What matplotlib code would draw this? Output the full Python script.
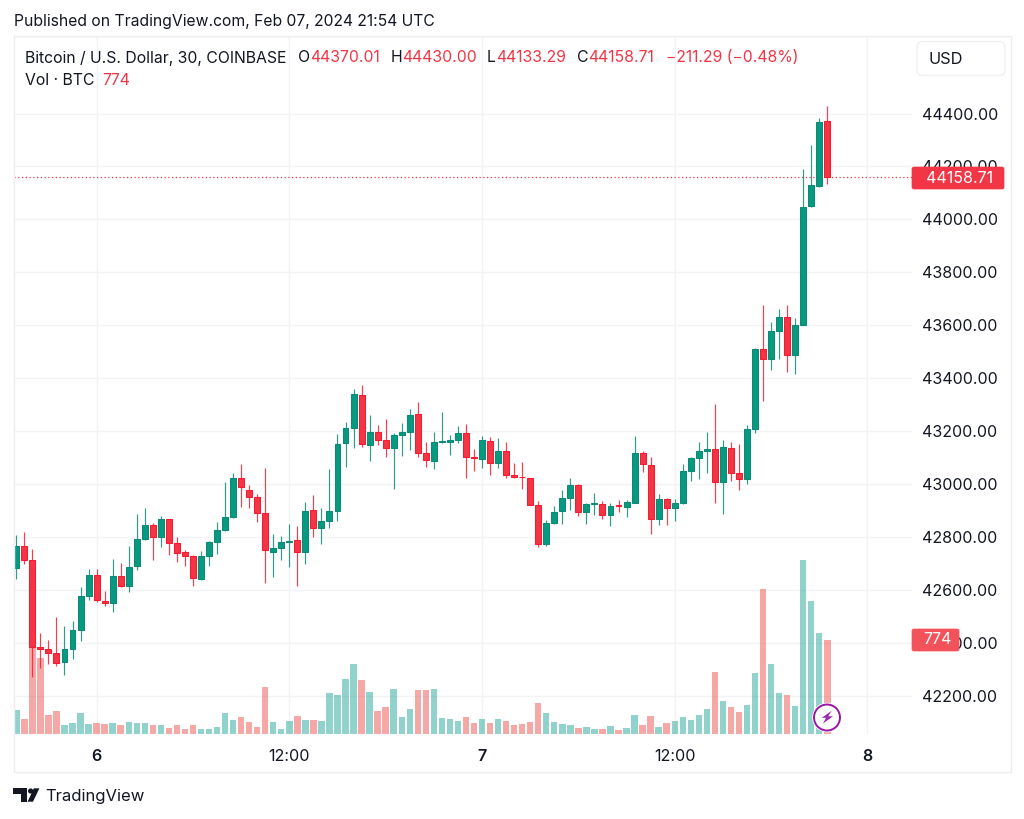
import matplotlib
matplotlib.use("Agg")
import matplotlib.pyplot as plt
from matplotlib.patches import Polygon, Circle, FancyBboxPatch, Rectangle

plt.rcParams['font.family'] = ['Inter', 'DejaVu Sans']

opens = [42685,42768,42715,42385,42378,42362,42330,42379,42449,42578,42656,42560,42552,42653,42617,42692,42793,42846,42800,42867,
42779,42743,42730,42643,42729,42783,42828,42875,43023,42978,42951,42891,42743,42758,42781,42790,42744,42901,42835,42862,
42900,43156,43211,43337,43148,43197,43167,43136,43186,43199,43264,43117,43089,43158,43160,43168,43192,43103,43096,43165,
43080,43125,43034,43028,43023,42922,42774,42854,42898,42948,42998,42895,42925,42924,42885,42920,42915,42930,43118,43073,
42870,42945,42910,42928,43051,43100,43127,43134,43008,43137,43041,43020,43207,43510,43472,43578,43630,43487,43601,44050,44126,44370.01]
highs = [42809,42818,42754,42437,42412,42497,42465,42483,42611,42679,42680,42597,42718,42702,42768,42888,42910,42853,42879,42868,
42801,42752,42732,42748,42785,42857,43007,43041,43075,42996,42963,43061,42811,42804,42849,42842,42933,42960,42910,43058,
43189,43236,43358,43374,43261,43224,43246,43192,43231,43284,43309,43159,43198,43272,43186,43220,43226,43133,43183,43177,
43176,43161,43080,43084,43024,42938,42865,42918,42978,43022,43002,42930,42966,42936,42928,42940,42940,43182,43125,43102,
42963,42949,42943,43076,43103,43161,43198,43304,43166,43159,43151,43223,43514,43677,43611,43661,43677,43628,44189,44281,44382,44430.00]
lows = [42643,42699,42273,42307,42322,42315,42278,42339,42407,42564,42554,42539,42519,42611,42592,42677,42788,42714,42763,42733,
42705,42692,42617,42640,42692,42738,42825,42873,42915,42909,42857,42627,42650,42714,42687,42617,42698,42801,42773,42835,
42861,43064,43137,43141,43087,43149,43104,42983,43108,43129,43102,43065,43056,43157,43111,43157,43024,43049,43061,43036,
43061,43022,43025,42983,42922,42762,42767,42849,42851,42904,42881,42851,42885,42868,42842,42894,42875,42929,43046,42813,
42846,42846,42861,42926,43012,43020,43041,42928,42888,43011,42978,43002,43195,43314,43430,43474,43423,43415,43600,44048,44124,44133.29]
closes = [42768,42715,42385,42378,42363,42326,42379,42449,42578,42656,42563,42550,42653,42617,42687,42793,42846,42800,42868,42779,
42741,42730,42647,42728,42783,42828,42875,43023,42991,42951,42891,42753,42758,42783,42784,42743,42898,42836,42862,42899,
43153,43211,43341,43151,43198,43168,43136,43186,43199,43261,43119,43093,43159,43162,43168,43192,43103,43098,43166,43080,
43125,43035,43027,43026,42923,42774,42854,42896,42948,42998,42896,42924,42928,42885,42918,42916,42933,43118,43075,42870,
42945,42910,42928,43051,43100,43127,43134,43008,43139,43042,43020,43207,43511,43472,43578,43630,43487,43602,44047,44129,44369,44158.71]
volumes = [197,125,820,623,158,186,71,88,170,82,93,82,88,76,98,88,93,71,71,49,
71,43,71,43,43,60,175,115,142,98,60,388,98,43,109,148,115,112,104,339,
317,449,574,443,344,186,224,367,142,205,361,361,371,131,125,104,142,93,125,93,
121,109,76,82,98,257,170,98,82,76,49,55,41,43,66,33,49,158,76,148,
60,88,109,142,115,158,207,508,268,219,180,235,503,1187,574,339,322,230,1427,1091,826,774]
price_ticks = [42200,42400,42600,42800,43000,43200,43400,43600,43800,44000,44200,44400]
time_positions = [10,34,58,82,106]
time_labels = ["6","12:00","7","12:00","8"]
change_text = "\u2212211.29 (\u22120.48%)"

W, H = 1024, 819
GREEN, RED = "#089981", "#F23645"
GRID = "#F2F3F6"
INK = "#131722"
FS = 11.35

fig = plt.figure(figsize=(W/100, H/100), dpi=100, facecolor="white")
rect = [13.5/W, 1-734/H, (912-13.5)/W, (734-36)/H]

ax = fig.add_axes(rect, zorder=1)
ax.set_xlim(-0.35, 111.55)
ax.set_ylim(42056.7, 44692.7)
ax.set_xticks(time_positions, time_labels)
ax.set_yticks(price_ticks, [f"{p:.2f}" for p in price_ticks])
ax.yaxis.tick_right()
ax.tick_params(axis='both', length=0, labelcolor=INK)
ax.tick_params(axis='y', labelsize=11.55, pad=7.5)
ax.tick_params(axis='x', labelsize=11.6, pad=11)
for lab, txt in zip(ax.get_xticklabels(), time_labels):
    if ":" not in txt:
        lab.set_fontweight("semibold")
ax.grid(True, color=GRID, lw=1.0)
ax.set_axisbelow(True)
for s in ax.spines.values():
    s.set_visible(False)

vol = fig.add_axes(rect, zorder=2, sharex=ax)
vol.patch.set_alpha(0)
vol.axis("off")
vol.set_ylim(0, 5729)
x = list(range(len(opens)))
vcols = ["#26A69A" if c >= o else "#EF5350" for o, c in zip(opens, closes)]
vol.bar(x, volumes, width=0.8, color=vcols, alpha=0.5, lw=0)

pr = fig.add_axes(rect, zorder=3, sharex=ax, sharey=ax)
pr.patch.set_alpha(0)
pr.axis("off")
up = [c >= o for o, c in zip(opens, closes)]
fill = [GREEN if u else RED for u in up]
edge = ["#0B8A75" if u else "#FA1A30" for u in up]
pr.vlines(x, lows, highs, colors=edge, lw=0.85, zorder=2, alpha=0.85)
pr.bar(x, [abs(c-o) for o, c in zip(opens, closes)],
       bottom=[min(o, c) for o, c in zip(opens, closes)],
       width=0.74, color=fill, edgecolor=edge, lw=0.75, zorder=3)
pr.axhline(closes[-1], color=RED, lw=0.9, ls=(0, (1, 2)), zorder=1)

# overlay in pixel coordinates for the page furniture
ov = fig.add_axes([0, 0, 1, 1], zorder=4)
ov.set_xlim(0, W)
ov.set_ylim(H, 0)
ov.axis("off")
ov.patch.set_alpha(0)

ov.add_patch(Rectangle((13.5, 36), 997, 736, fill=False, ec="#EDEEF2", lw=1.0, zorder=0))
ov.text(14, 21.5, "Published on TradingView.com, Feb 07, 2024 21:54 UTC", fontsize=11.3,
        color=INK, va="center", ha="left")

ov.text(25, 58, "Bitcoin / U.S. Dollar, 30, COINBASE", fontsize=FS, color=INK, va="center")
ov.text(25, 80.5, "Vol · BTC", fontsize=FS, color=INK, va="center")
ov.text(102.5, 80.5, f"{volumes[-1]}", fontsize=FS, color=RED, va="center")
for xp, letter, xv, val in [(298, "O", 310.5, opens[-1]), (390.5, "H", 402.5, highs[-1]),
                            (486.5, "L", 496, lows[-1]), (576.5, "C", 588.5, closes[-1])]:
    ov.text(xp, 58, letter, fontsize=FS, color=INK, va="center")
    ov.text(xv, 58, f"{val:.2f}", fontsize=FS, color=RED, va="center")
ov.text(665.5, 58, change_text, fontsize=FS, color=RED, va="center")

ov.add_patch(FancyBboxPatch((917, 41.5), 88, 34, boxstyle="round,pad=0,rounding_size=6",
                            fc="white", ec="#EFF0F3", lw=1.0))
ov.text(929, 59, "USD", fontsize=11.8, color=INK, va="center")

ov.add_patch(FancyBboxPatch((912, 167), 92, 22, boxstyle="round,pad=0,rounding_size=2",
                            fc=RED, ec=RED, lw=0.5))
ov.text(960, 178.5, f"{closes[-1]:.2f}", fontsize=11.55, color="white", va="center", ha="center")
ov.add_patch(FancyBboxPatch((912, 629), 47, 22, boxstyle="round,pad=0,rounding_size=2",
                            fc="#F4525A", ec="#F4525A", lw=0.5))
ov.text(937, 640, f"{volumes[-1]}", fontsize=11.55, color="white", va="center", ha="center")

ov.add_patch(Circle((827, 717.5), 14.8, fc="white", ec="none"))
ov.add_patch(Circle((827, 717.5), 13, fc="white", ec="#9C15A8", lw=1.4))
ov.add_patch(Polygon([(831.5, 710.8), (821.8, 717.8), (826, 717.8), (823, 723.5), (833, 716.3), (828.2, 716.3)],
                     closed=True, fc="#9C27B0", ec="none"))

ov.add_patch(Polygon([(13.3, 788.3), (27, 788.3), (27, 801.7), (20.5, 801.7), (20.5, 794), (13.3, 794)],
                     closed=True, fc=INK, ec="none"))
ov.add_patch(Circle((30.6, 791), 2.6, fc=INK, ec="none"))
ov.add_patch(Polygon([(39.4, 788.3), (33, 801.7), (27.6, 801.7), (33.8, 788.3)],
                     closed=True, fc=INK, ec="none"))
ov.text(45, 797, "TradingView", fontsize=12, color=INK, va="center")

fig.savefig("out.png", dpi=100, facecolor="white")
